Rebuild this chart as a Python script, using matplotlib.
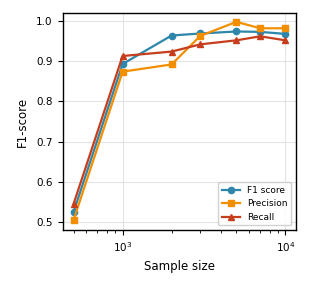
import matplotlib
matplotlib.use("Agg")
import matplotlib.pyplot as plt

sample_sizes = [500, 1000, 2000, 3000, 5000, 7000, 10000]
f1_score = [0.525, 0.893, 0.964, 0.969, 0.974, 0.973, 0.968]
precision = [0.505, 0.874, 0.892, 0.963, 0.998, 0.982, 0.982]
recall = [0.545, 0.913, 0.924, 0.942, 0.952, 0.962, 0.952]

fig = plt.figure(figsize=(3.1, 2.87), dpi=100)
ax = fig.add_axes([63/310, 1-230/287, (296-63)/310, (230-13)/287])

ax.plot(sample_sizes, f1_score, '-o', color='#2E86AB', lw=1.6, ms=4.5, label='F1 score')
ax.plot(sample_sizes, precision, '-s', color='#F18F01', lw=1.6, ms=4.5, label='Precision')
ax.plot(sample_sizes, recall, '-^', color='#C73E1D', lw=1.6, ms=4.5, label='Recall')

ax.set_xscale('log')
ax.set_ylim(0.48, 1.02)
ax.set_yticks([0.5, 0.6, 0.7, 0.8, 0.9, 1.0])
ax.grid(True, color='#dddddd', lw=0.8, alpha=0.8)
ax.tick_params(labelsize=7.5, pad=4)
ax.set_xlabel('Sample size', fontsize=8.5)
ax.set_ylabel('F1-score', fontsize=8.5, labelpad=5)
for s in ax.spines.values():
    s.set_linewidth(1.0)
ax.legend(loc='lower right', fontsize=6.5, frameon=True, framealpha=0.9, edgecolor='#cccccc', fancybox=True)

fig.savefig('out.png', dpi=100)
